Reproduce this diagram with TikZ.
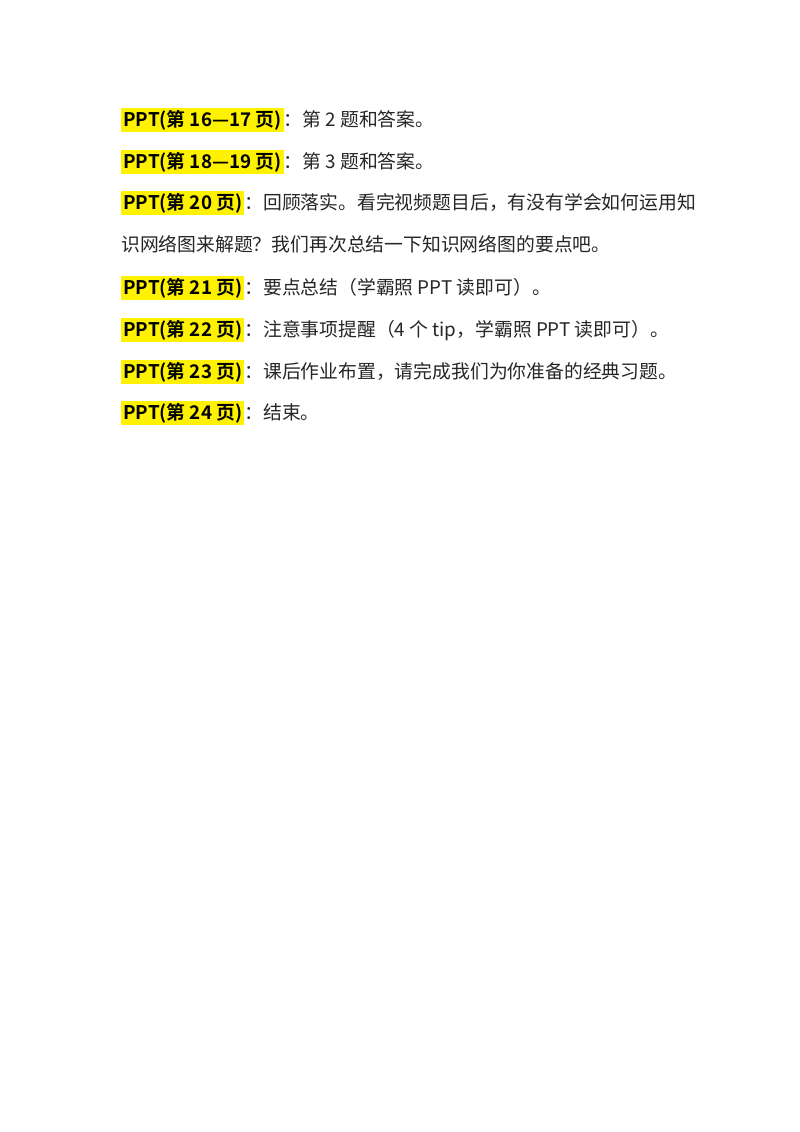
\documentclass[tikz,border=0pt]{standalone}
\usepackage{fontspec}
\setmainfont{Noto Sans CJK SC}
\newfontfamily\hl{Noto Sans CJK SC}[BoldFont=* Bold]
\begin{document}
\begin{tikzpicture}[x=0.744pt,y=-0.744pt,
  line/.style={anchor=base west,inner sep=0pt,font=\fontsize{14}{14}\selectfont,text=black!85}]
\useasboundingbox[fill=white] (0,0) rectangle (800,1132);
\newcommand\hlbox[1]{{\setlength{\fboxsep}{1.5pt}\colorbox{yellow}{\textcolor{black}{\bfseries\hl #1}}}}
\node[line] (l1) at (121,126) {\hlbox{PPT(第 16—17 页)}：第 2 题和答案。};
\node[line] (l2) at (121,168) {\hlbox{PPT(第 18—19 页)}：第 3 题和答案。};
\node[line] (l3) at (121,209) {\hlbox{PPT(第 20 页)}：回顾落实。看完视频题目后，有没有学会如何运用知};
\node[line] (l4) at (121,251) {识网络图来解题？我们再次总结一下知识网络图的要点吧。};
\node[line] (l5) at (121,294) {\hlbox{PPT(第 21 页)}：要点总结（学霸照 PPT 读即可）。};
\node[line] (l6) at (121,336) {\hlbox{PPT(第 22 页)}：注意事项提醒（4 个 tip，学霸照 PPT 读即可）。};
\node[line] (l7) at (121,378) {\hlbox{PPT(第 23 页)}：课后作业布置，请完成我们为你准备的经典习题。};
\node[line] (l8) at (121,419) {\hlbox{PPT(第 24 页)}：结束。};
\end{tikzpicture}
\end{document}
